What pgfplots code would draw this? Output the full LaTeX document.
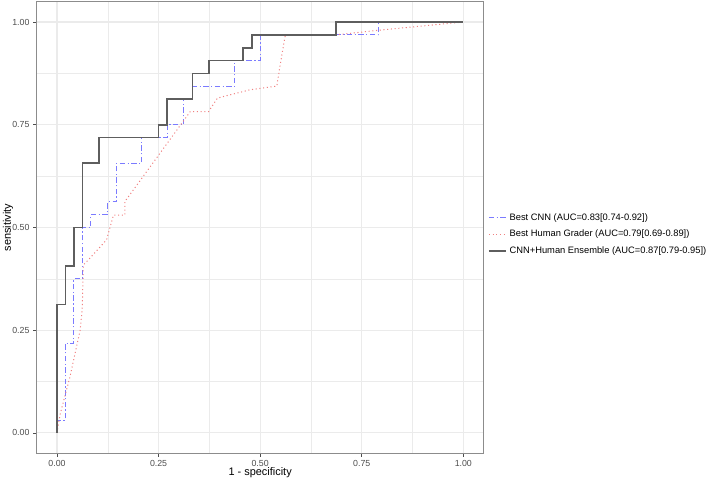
\documentclass[border=0pt]{standalone}
\usepackage{pgfplots}
\pgfplotsset{compat=1.18}
\usepackage{fontspec}
\setmainfont{Liberation Sans}
\definecolor{gridc}{HTML}{EBEBEB}
\definecolor{borderc}{HTML}{8C8C8C}
\definecolor{tickc}{HTML}{4D4D4D}
\definecolor{cnnc}{HTML}{7B7BFF}
\definecolor{humc}{HTML}{F08080}
\definecolor{ensc}{HTML}{5E5E5E}
\begin{document}
\begin{tikzpicture}
\useasboundingbox (-27.5pt,-20.6pt) rectangle (505.7pt,340.1pt);
\begin{axis}[
  at={(0pt,0pt)}, anchor=south west,
  scale only axis, width=335.2pt, height=339pt,
  xmin=-0.05, xmax=1.05, ymin=-0.05, ymax=1.05,
  xtick={0,0.25,0.5,0.75,1}, ytick={0,0.25,0.5,0.75,1},
  minor xtick={0.125,0.375,0.625,0.875}, minor ytick={0.125,0.375,0.625,0.875},
  xticklabels={0.00,0.25,0.50,0.75,1.00},
  yticklabels={0.00,0.25,0.50,0.75,1.00},
  grid=both,
  major grid style={gridc, line width=0.8pt},
  minor grid style={gridc, line width=0.4pt},
  axis line style={borderc, line width=0.6pt},
  tick align=outside, tick pos=left,
  major tick length=2.4pt, minor tick length=0pt,
  tick style={tickc, line width=0.5pt},
  ticklabel style={font=\fontsize{6.6}{7}\selectfont, text=tickc},
  xticklabel style={yshift=0.5pt},
  yticklabel style={xshift=0.5pt},
  xlabel={1 - specificity}, ylabel={sensitivity},
  label style={font=\fontsize{8.2}{9}\selectfont},
  xlabel style={at={(axis description cs:0.5,0)}, anchor=center, yshift=-14.6pt},
  ylabel style={at={(axis description cs:0,0.5)}, anchor=center, yshift=21.5pt},
  legend style={at={(axis description cs:1,0.5)}, anchor=west, xshift=0pt, yshift=-5pt,
    draw=none, fill=none, font=\fontsize{7}{8}\selectfont, row sep=1.8pt},
  legend cell align=left,
  legend image code/.code={\draw[#1] (0pt,0pt) -- (13pt,0pt);},
]
\addplot[cnnc, line width=0.75pt, dash pattern=on 4pt off 1.8pt on 1pt off 1.8pt] coordinates {
(0,0) (0,0.03125) (0.0208,0.03125) (0.0208,0.21875) (0.0417,0.21875) (0.0417,0.375)
(0.0625,0.375) (0.0625,0.5) (0.0833,0.5) (0.0833,0.53125) (0.125,0.53125) (0.125,0.5625)
(0.1458,0.5625) (0.1458,0.65625) (0.2083,0.65625) (0.2083,0.71875) (0.2708,0.71875)
(0.2708,0.75) (0.3125,0.75) (0.3125,0.8125) (0.3333,0.8125) (0.3333,0.84375)
(0.4375,0.84375) (0.4375,0.90625) (0.5,0.90625) (0.5,0.96875) (0.7917,0.96875)
(0.7917,1) (1,1)};
\addlegendentry{Best CNN (AUC=0.83[0.74-0.92])}
\addplot[humc, line width=0.75pt, dash pattern=on 0.8pt off 2pt] coordinates {
(0,0) (0.0074,0.044) (0.032,0.137) (0.057,0.25) (0.062,0.30) (0.065,0.409)
(0.077,0.421) (0.122,0.47) (0.139,0.53) (0.167,0.53) (0.167,0.563) (0.328,0.782)
(0.373,0.782) (0.395,0.815) (0.475,0.835) (0.541,0.844) (0.55,0.90) (0.562,0.969)
(0.689,0.969) (0.792,0.98) (1,1)};
\addlegendentry{Best Human Grader (AUC=0.79[0.69-0.89])}
\addplot[ensc, line width=1.3pt] coordinates {
(0,0) (0,0.3125) (0.0208,0.3125) (0.0208,0.40625) (0.0417,0.40625) (0.0417,0.5)
(0.0625,0.5) (0.0625,0.65625) (0.1042,0.65625) (0.1042,0.71875) (0.25,0.71875)
(0.25,0.75) (0.2708,0.75) (0.2708,0.8125) (0.3333,0.8125) (0.3333,0.875)
(0.375,0.875) (0.375,0.90625) (0.4583,0.90625) (0.4583,0.9375) (0.4792,0.9375)
(0.4792,0.96875) (0.6875,0.96875) (0.6875,1) (1,1)};
\addlegendentry{CNN+Human Ensemble (AUC=0.87[0.79-0.95])}
\end{axis}
\end{tikzpicture}
\end{document}
